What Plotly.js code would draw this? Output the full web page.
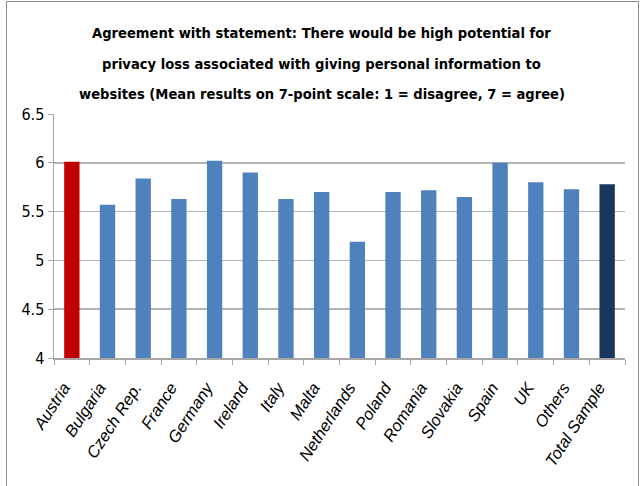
<!DOCTYPE html>
<html>
<head>
<meta charset="utf-8">
<script src="https://cdn.plot.ly/plotly-3.0.1.min.js"></script>
<style>
  html, body { margin: 0; padding: 0; background: #fff; }
  #frame { position: absolute; left: 6px; top: 1px; width: 633px; height: 500px; border: 1.5px solid #8c8c8c; box-sizing: border-box; }
  #chart { position: absolute; left: 0; top: 0; width: 643px; height: 486px; }
</style>
</head>
<body>
<div id="frame"></div>
<div id="chart"></div>
<script>
const categories = ["Austria", "Bulgaria", "Czech Rep.", "France", "Germany", "Ireland", "Italy", "Malta",
  "Netherlands", "Poland", "Romania", "Slovakia", "Spain", "UK", "Others", "Total Sample"];
const meanValues = [6.01, 5.57, 5.84, 5.63, 6.02, 5.90, 5.63, 5.70, 5.19, 5.70, 5.72, 5.65, 6.00, 5.80, 5.73, 5.78];
const barColors = ["#C00000", "#4F81BD", "#4F81BD", "#4F81BD", "#4F81BD", "#4F81BD", "#4F81BD", "#4F81BD",
  "#4F81BD", "#4F81BD", "#4F81BD", "#4F81BD", "#4F81BD", "#4F81BD", "#4F81BD", "#17375E"];
const yTicks = [4, 4.5, 5, 5.5, 6, 6.5];
const titleLines = [
  "Agreement with statement: There would be high potential for",
  "privacy loss associated with giving personal information to",
  "websites (Mean results on 7-point scale: 1 = disagree, 7 = agree)"
];

const FONT = "'DejaVu Sans Condensed', 'Liberation Sans', Arial, sans-serif";
const XFONT = "'Liberation Sans', Arial, sans-serif";

const trace = {
  type: "bar",
  x: categories,
  y: meanValues,
  base: 0,
  marker: { color: barColors, line: { width: 0 } },
  hoverinfo: "x+y"
};

const titleY = [1.336, 1.209, 1.082];
const annotations = titleLines.map((t, i) => ({
  text: "<b>" + t + "</b>",
  xref: "paper", yref: "paper",
  x: 0.469, y: titleY[i],
  xanchor: "center", yanchor: "middle",
  showarrow: false,
  font: { family: FONT, size: 14.6, color: "#000" }
}));

const layout = {
  width: 643, height: 486,
  margin: { l: 54, r: 18, t: 114, b: 128 },
  paper_bgcolor: "rgba(0,0,0,0)",
  plot_bgcolor: "#fff",
  showlegend: false,
  bargap: 0.57,
  annotations: annotations,
  xaxis: {
    type: "category",
    tickmode: "array",
    tickvals: categories,
    ticktext: categories.map(c => "<i>" + c + "</i>"),
    tickangle: -57,
    ticklabelstandoff: 12,
    ticklabelshift: -8,
    tickfont: { family: XFONT, size: 16.5, color: "#000", style: "italic" },
    showline: true, linecolor: "#a6a6a6", linewidth: 1.5,
    ticks: "outside", tickson: "boundaries", ticklen: 5, tickcolor: "#a6a6a6", tickwidth: 1,
    showgrid: false, zeroline: false,
    fixedrange: true
  },
  yaxis: {
    range: [4, 6.5],
    tickvals: yTicks,
    ticktext: yTicks.map(String),
    tickfont: { family: FONT, size: 16, color: "#000" },
    showline: true, linecolor: "#a6a6a6", linewidth: 1.5,
    ticks: "outside", ticklen: 5, tickcolor: "#a6a6a6",
    showgrid: true, gridcolor: "#b3b3b3", gridwidth: 1.5,
    zeroline: false,
    fixedrange: true
  }
};

Plotly.newPlot("chart", [trace], layout, { staticPlot: true });
</script>
</body>
</html>
